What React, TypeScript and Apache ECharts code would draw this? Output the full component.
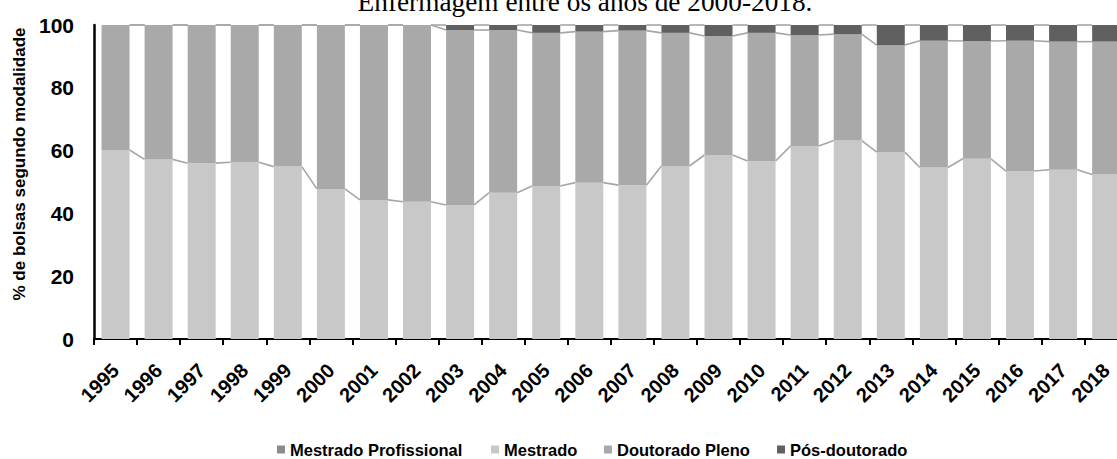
import React, { useEffect, useRef } from "react";
import * as echarts from "echarts";

const years = ["1995","1996","1997","1998","1999","2000","2001","2002","2003","2004","2005","2006","2007","2008","2009","2010","2011","2012","2013","2014","2015","2016","2017","2018"];
const mestradoProfissional = [0,0,0,0,0,0,0,0,0,0,0,0,0,0,0,0,0,0,0,0,0,0,0,0];
const mestrado = [60.2,57.2,56.0,56.3,54.9,47.8,44.3,43.7,42.7,46.6,48.7,49.8,49.0,55.1,58.6,56.7,61.5,63.2,59.5,54.6,57.4,53.5,53.9,52.4];
const doutoradoPleno = [39.8,42.8,44.0,43.7,45.1,52.2,55.7,56.3,55.7,51.8,48.8,48.1,49.2,42.4,37.9,40.8,35.3,33.9,34.1,40.4,37.5,41.5,40.8,42.3];
const posDoutorado = [0,0,0,0,0,0,0,0,1.6,1.6,2.5,2.1,1.8,2.5,3.5,2.5,3.2,2.9,6.4,5.0,5.1,5.0,5.3,5.3];
const yTicks = { min: 0, max: 100, interval: 20 };

const FONT = "'Liberation Sans', Arial, sans-serif";
const BAR_FRAC = 0.65;

function cumulative(...arrs: number[][]): number[] {
  return arrs[0].map((_, i) => arrs.reduce((s, a) => s + a[i], 0));
}

function seriesLine(levels: number[], id: string) {
  const data = levels.slice(0, -1).map((v, i) => [i, v, levels[i + 1]]);
  return {
    type: "custom",
    id,
    silent: true,
    z: 1,
    data,
    renderItem: (params: any, api: any) => {
      const i = api.value(0);
      const a = api.coord([i, api.value(1)]);
      const b = api.coord([i + 1, api.value(2)]);
      const half = (api.size([1, 0])[0] * BAR_FRAC) / 2;
      return {
        type: "line",
        shape: { x1: a[0] + half, y1: a[1], x2: b[0] - half, y2: b[1] },
        style: { stroke: "#a6a6a6", lineWidth: 1.6 },
      };
    },
  };
}

export default function App() {
  const ref = useRef<HTMLDivElement>(null);
  useEffect(() => {
    if (!ref.current) return;
    const chart = echarts.init(ref.current, null, { renderer: "svg" });
    const lvlM = cumulative(mestradoProfissional, mestrado);
    const lvlD = cumulative(mestradoProfissional, mestrado, doutoradoPleno);
    const lvlP = cumulative(mestradoProfissional, mestrado, doutoradoPleno, posDoutorado);
    const legendText = { fontFamily: FONT, fontSize: 16.5, fontWeight: "bold" as const, color: "#000" };
    const mkLegend = (name: string, left: number) => ({
      data: [name], left, top: 441, icon: "rect", itemWidth: 8, itemHeight: 8,
      textStyle: legendText, padding: 0, selectedMode: false,
    });
    const bar = (name: string, data: number[], color: string) => ({
      name, type: "bar", stack: "total", data, barWidth: BAR_FRAC * 100 + "%",
      itemStyle: { color }, z: 2,
    });
    chart.setOption({
      animation: false,
      grid: { left: 94, top: 25, width: 24 * 43.07, height: 314, containLabel: false },
      graphic: [{
        type: "text", x: 585, y: 1.8,
        style: { text: "Enfermagem entre os anos de 2000-2018.", font: "27.3px 'Liberation Serif', 'Times New Roman', serif", fill: "#000", textAlign: "center", textVerticalAlign: "middle" },
      }],
      legend: [
        mkLegend("Mestrado Profissional", 277),
        mkLegend("Mestrado", 491),
        mkLegend("Doutorado Pleno", 604),
        mkLegend("Pós-doutorado", 777),
      ],
      xAxis: {
        type: "category", data: years,
        axisLine: { lineStyle: { color: "#000", width: 2 } },
        axisTick: { show: true, length: 6, interval: 0, lineStyle: { color: "#000", width: 2 } },
        axisLabel: { interval: 0, rotate: 45, margin: 28, fontFamily: FONT, fontSize: 20, fontWeight: "bold", color: "#000" },
      },
      yAxis: {
        type: "value", min: yTicks.min, max: yTicks.max, interval: yTicks.interval,
        name: "% de bolsas segundo modalidade", nameLocation: "middle", nameRotate: 90, nameGap: 66,
        nameTextStyle: { fontFamily: FONT, fontSize: 17, fontWeight: "bold", color: "#000", padding: [0, 0, 0, 36] },
        axisLine: { show: true, lineStyle: { color: "#000", width: 2.5 } },
        axisTick: { show: false },
        splitLine: { show: false },
        axisLabel: { margin: 20, fontFamily: FONT, fontSize: 21, fontWeight: "bold", color: "#000" },
      },
      series: [
        bar("Mestrado Profissional", mestradoProfissional, "#8c8c8c"),
        bar("Mestrado", mestrado, "#c8c8c8"),
        bar("Doutorado Pleno", doutoradoPleno, "#a9a9a9"),
        bar("Pós-doutorado", posDoutorado, "#606060"),
        seriesLine(lvlM, "slM"),
        seriesLine(lvlD, "slD"),
        seriesLine(lvlP, "slP"),
      ],
    });
    return () => chart.dispose();
  }, []);
  return (
    <div style={{ position: "absolute", left: 0, top: 0, width: 1117, height: 459, overflow: "hidden", background: "#fff" }}>
      <div ref={ref} style={{ width: 1140, height: 459 }} />
    </div>
  );
}
